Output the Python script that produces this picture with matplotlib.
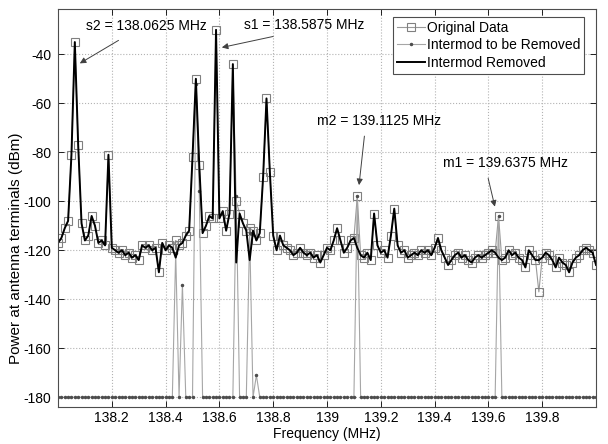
#!/usr/bin/env python3

import numpy as np
import matplotlib
matplotlib.use('Agg')
import matplotlib.pyplot as plt

plt.rcParams['font.family'] = ['Liberation Sans', 'DejaVu Sans']
plt.rcParams['font.size'] = 10
plt.rcParams['axes.unicode_minus'] = False

# 12.5 kHz bins from 138 to 140 MHz
freq = 138.0 + 0.0125 * np.arange(161)

# Original spectrum (dBm)
original = [
    -117, -115, -111, -108, -81, -35, -77, -109, -116, -114,
    -106, -110, -117, -116, -118, -81, -119, -120, -121, -120,
    -122, -121, -123, -122, -124, -118, -119, -118, -120, -119,
    -129, -117, -120, -118, -119, -116, -118, -117, -114, -112,
    -82, -50, -85, -113, -110, -106, -107, -30, -107, -104,
    -112, -105, -44, -100, -105, -109, -112, -111, -112, -116,
    -113, -90, -58, -88, -114, -120, -114, -118, -119, -120,
    -122, -121, -119, -121, -122, -121, -123, -122, -125, -122,
    -119, -120, -116, -111, -116, -121, -119, -116, -115, -98,
    -122, -123, -121, -124, -105, -118, -121, -120, -123, -114,
    -103, -118, -121, -120, -123, -122, -121, -122, -120, -121,
    -120, -122, -119, -115, -120, -123, -126, -124, -122, -121,
    -123, -122, -124, -125, -123, -122, -123, -122, -121, -120,
    -121, -106, -124, -123, -120, -122, -121, -123, -124, -127,
    -120, -122, -124, -137, -123, -121, -122, -124, -127, -123,
    -125, -126, -129, -125, -123, -122, -120, -119, -120, -121,
    -126,
]

# bins where the intermod estimate is above the floor
intermod_freq = [138.4375, 138.4625, 138.5125, 138.525, 138.6625,
                 138.7125, 138.7375, 139.1125, 139.6375]
intermod_vals = [-121, -134, -52, -96, -98, -113, -171, -98, -106]
floor_level = -180

# bins changed after the intermod is taken out
removed_freq = [138.4375, 138.6625, 138.7125, 139.1125, 139.6375, 139.7875]
removed_vals = [-123, -125, -124, -119, -123, -124]

xticks = [138.2, 138.4, 138.6, 138.8, 139, 139.2, 139.4, 139.6, 139.8]
xticklabels = ['138.2', '138.4', '138.6', '138.8', '139',
               '139.2', '139.4', '139.6', '139.8']
yticks = [-180, -160, -140, -120, -100, -80, -60, -40]

# notes: text, text centre, arrow tail, arrow head
notes = [
    ('s2 = 138.0625 MHz', (138.33, -28.6), (138.225, -34.3), (138.081, -43.7)),
    ('s1 = 138.5875 MHz', (138.916, -28.1), (138.80, -32.7), (138.609, -37.2)),
    ('m2 = 139.1125 MHz', (139.194, -67.1), (139.139, -73.4), (139.119, -93.4)),
    ('m1 = 139.6375 MHz', (139.663, -84.5), (139.599, -90.6), (139.624, -102.2)),
]


def bin_of(f):
    return int(round((f - 138.0) / 0.0125))


original = np.array(original, dtype=float)

intermod = np.full(len(freq), float(floor_level))
for f, v in zip(intermod_freq, intermod_vals):
    intermod[bin_of(f)] = v

removed = original.copy()
for f, v in zip(removed_freq, removed_vals):
    removed[bin_of(f)] = v

fig = plt.figure(figsize=(6.08, 4.44), dpi=100)
ax = fig.add_axes([0.0954, 0.0833, 0.8849, 0.8964])

ax.plot(freq, original, color='0.6', lw=0.8, marker='s', ms=5.5,
        mfc='none', mec='0.5', mew=0.8, label='Original Data')
ax.plot(freq, intermod, color='0.65', lw=0.8, marker='.', ms=3,
        mfc='0.3', mec='0.3', label='Intermod to be Removed')
ax.plot(freq, removed, color='k', lw=1.4, label='Intermod Removed')

for text, pos, tail, head in notes:
    ax.annotate('', xy=head, xytext=tail,
                arrowprops=dict(arrowstyle='-|>', color='0.25', lw=0.7,
                                mutation_scale=9, shrinkA=0, shrinkB=0))
    ax.text(pos[0], pos[1], text, ha='center', va='center', fontsize=10)

ax.set_xlim(138.0, 140.0)
ax.set_ylim(-184, -21.5)
ax.set_xticks(xticks)
ax.set_xticklabels(xticklabels)
ax.set_yticks(yticks)
ax.tick_params(direction='in', top=True, right=True, length=4,
               width=0.6, labelsize=10)
ax.tick_params(axis='x', pad=3)
ax.tick_params(axis='y', pad=5)
ax.grid(True, color='0.7', linestyle=':', lw=0.8)
for s in ax.spines.values():
    s.set_linewidth(0.8)
    s.set_color('0.3')

ax.set_xlabel('Frequency (MHz)', fontsize=10, labelpad=1)
ax.set_ylabel('Power at antenna terminals (dBm)', fontsize=11)
ax.yaxis.set_label_coords(-0.065, 0.40)

leg = ax.legend(loc='upper right', bbox_to_anchor=(0.978, 0.981),
                fancybox=False, framealpha=1, edgecolor='0.3',
                handlelength=2.0, handletextpad=0.15, borderpad=0.3,
                labelspacing=0.25, borderaxespad=0, fontsize=10)
leg.get_frame().set_linewidth(0.8)

fig.savefig('out.png', dpi=100)
